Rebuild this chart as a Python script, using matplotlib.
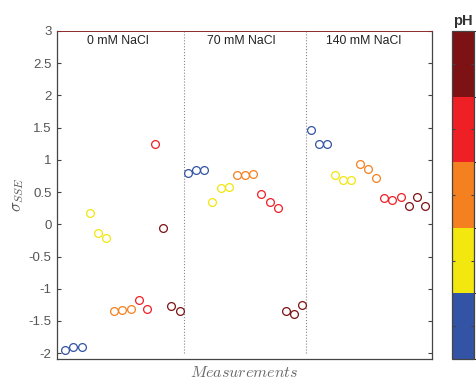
import matplotlib
matplotlib.use("Agg")
import matplotlib.pyplot as plt
from matplotlib.colors import ListedColormap, BoundaryNorm
from matplotlib.colorbar import ColorbarBase
from matplotlib.ticker import FormatStrFormatter

plt.rcParams["font.family"] = ["Liberation Sans", "DejaVu Sans"]
plt.rcParams["mathtext.fontset"] = "cm"
plt.rcParams["axes.unicode_minus"] = False

# pH band colours, low to high
ph_colors = ["#3353A4", "#F2E70F", "#F58020", "#EE1F25", "#7C1214"]

groups = ["0 mM NaCl", "70 mM NaCl", "140 mM NaCl"]

# sigma_SSE per group, three repeats per pH band (blue, yellow, orange, red, dark red)
sigma_0mM = [-1.95, -1.91, -1.91, 0.18, -0.14, -0.22, -1.35, -1.33, -1.31,
             -1.18, -1.32, 1.24, -0.05, -1.26, -1.35]
sigma_70mM = [0.79, 0.85, 0.85, 0.34, 0.56, 0.58, 0.76, 0.76, 0.78,
              0.47, 0.35, 0.25, -1.35, -1.39, -1.25]
sigma_140mM = [1.46, 1.25, 1.25, 0.77, 0.68, 0.69, 0.93, 0.86, 0.72,
               0.41, 0.38, 0.42, 0.28, 0.43, 0.28]

fig = plt.figure(figsize=(4.76, 3.81), dpi=100)
ax = fig.add_axes([0.1197, 0.0577, 0.787, 0.861])

ink = "#444444"
index = 1
for values in (sigma_0mM, sigma_70mM, sigma_140mM):
    for k, v in enumerate(values):
        ax.plot(index, v, "o", mfc="none", mec=ph_colors[k // 3],
                ms=5.6, mew=0.9, zorder=3)
        index += 1

# group separators and labels
for sep in (15.5, 30.5):
    ax.plot([sep, sep], [-2, 3], ":", color="#888888", lw=0.8, zorder=1)
for g, label in enumerate(groups):
    ax.text(7.5 + 15 * g, 2.85, label, ha="center", va="center",
            fontsize=8.8, color="#222222")

ax.set_xlim(0, 45.8)
ax.set_ylim(-2.09, 3)
ax.set_xticks([])
ax.set_yticks([-2 + 0.5 * i for i in range(11)])
ax.yaxis.set_major_formatter(FormatStrFormatter("%g"))
ax.tick_params(axis="y", direction="in", length=3, width=0.8, color=ink,
               labelcolor="#555555", labelsize=9.5, right=True, pad=4)
for side in ("left", "bottom", "right"):
    ax.spines[side].set_color(ink)
    ax.spines[side].set_linewidth(0.9)
ax.spines["top"].set_color("#8B2A2A")
ax.spines["top"].set_linewidth(0.7)

ax.set_xlabel(r"$Measurements$", fontsize=11.5, color="#666666", labelpad=4)
ax.set_ylabel(r"$\sigma_{SSE}$", fontsize=12, color="#555555", labelpad=2)

# pH colour bar, tick labels fall outside the picture
cax = fig.add_axes([0.9496, 0.0577, 0.0462, 0.861])
cmap = ListedColormap(ph_colors)
norm = BoundaryNorm([0, 1, 2, 3, 4, 5], cmap.N)
cb = ColorbarBase(cax, cmap=cmap, norm=norm, ticks=[0.5, 1.5, 2.5, 3.5, 4.5])
cb.outline.set_edgecolor(ink)
cb.outline.set_linewidth(0.9)
cax.tick_params(direction="in", length=2.5, width=0.8, color=ink,
                left=True, right=True, labelright=False, labelleft=False)
cax.set_title("pH", fontsize=10.5, fontweight="bold", color="#333333", pad=4)

fig.savefig("out.png", dpi=100)
